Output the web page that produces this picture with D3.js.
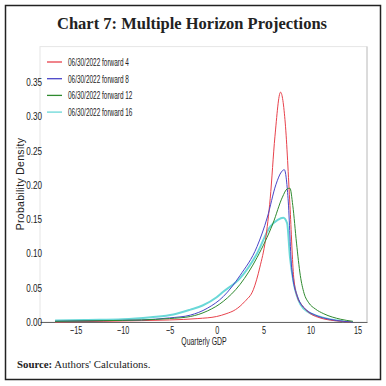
<!DOCTYPE html>
<html>
<head>
<meta charset="utf-8">
<script src="https://cdn.jsdelivr.net/npm/d3@7"></script>
<style>
  body { margin: 0; background: #fff; }
  .tick text { font-family: "Liberation Sans", Arial, sans-serif; font-size: 11px; fill: #222; }
  .legend text { font-family: "Liberation Sans", Arial, sans-serif; font-size: 11.5px; fill: #222; }
  .axis-label { font-family: "Liberation Sans", Arial, sans-serif; font-size: 10.5px; fill: #222; }
</style>
</head>
<body>
<script>
// chart values
const seriesNames = ["06/30/2022 forward 4", "06/30/2022 forward 8", "06/30/2022 forward 12", "06/30/2022 forward 16"]

const fwd4X = [-17.2, -12, -8, -5, -2, 0, 1, 2, 3, 3.9, 4.6, 5.2, 5.7, 6.2, 6.8, 7.3, 7.8, 8.2, 8.6, 9.0, 10, 11, 12.5, 14.3]
const fwd4Y = [0.000, 0.001, 0.002, 0.003, 0.005, 0.008, 0.012, 0.018, 0.030, 0.047, 0.080, 0.12, 0.18, 0.27, 0.335, 0.29, 0.17, 0.065, 0.036, 0.026, 0.012, 0.006, 0.002, 0.000]

const fwd8X = [-17.2, -12, -8, -5, -2.8, -1, 0.7, 2.5, 4.3, 5.4, 6.3, 6.9, 7.2, 7.6, 8.0, 8.6, 9.6, 10.5, 12, 13.5, 14.5]
const fwd8Y = [0.001, 0.002, 0.003, 0.006, 0.010, 0.020, 0.037, 0.068, 0.11, 0.153, 0.20, 0.219, 0.222, 0.18, 0.076, 0.037, 0.017, 0.010, 0.004, 0.001, 0.000]

const fwd12X = [-17.2, -12, -8, -5, -2.8, -1, 0.7, 2.5, 4.3, 6.0, 7.0, 7.5, 7.8, 8.1, 8.5, 8.9, 9.3, 9.8, 10.5, 11.4, 13.2, 14.5]
const fwd12Y = [0.001, 0.002, 0.003, 0.005, 0.008, 0.016, 0.030, 0.055, 0.094, 0.144, 0.182, 0.194, 0.195, 0.17, 0.115, 0.068, 0.042, 0.028, 0.019, 0.012, 0.004, 0.001]

const fwd16X = [-17.2, -14, -10, -7, -4.6, -2.8, -1.5, 0, 0.7, 2.5, 4.3, 5.7, 6.5, 7.1, 7.5, 7.8, 8.2, 8.9, 9.8, 10.7, 12, 13.5]
const fwd16Y = [0.002, 0.003, 0.004, 0.007, 0.011, 0.018, 0.024, 0.036, 0.044, 0.064, 0.100, 0.139, 0.149, 0.152, 0.144, 0.095, 0.057, 0.026, 0.014, 0.009, 0.004, 0.001]

const xTicks = [-15, -10, -5, 0, 5, 10, 15]
const yTicks = [0, 0.05, 0.10, 0.15, 0.20, 0.25, 0.30, 0.35]

const colors = ["#e8424c", "#4a45c8", "#2f8a2f", "#6ad8d8"]
const widths = [1, 1, 1, 2]

const width = 386
const height = 386

const svg = d3.select("body").append("svg")
  .attr("width", width)
  .attr("height", height)

// the source chart is squeezed sideways, so its sans text is narrow
function squeeze(sel, k) {
  sel.each(function() {
    const w = this.getComputedTextLength()
    this.setAttribute("textLength", w * k)
    this.setAttribute("lengthAdjust", "spacingAndGlyphs")
  })
}

// outer box
svg.append("rect")
  .attr("x", 5.5).attr("y", 5.5)
  .attr("width", 375).attr("height", 374)
  .attr("fill", "none")
  .attr("stroke", "#222")
  .attr("stroke-width", 1.5)

svg.append("text")
  .attr("x", 192).attr("y", 29)
  .attr("text-anchor", "middle")
  .attr("font-family", "'Liberation Serif', 'DejaVu Serif', serif")
  .attr("font-weight", "bold")
  .attr("font-size", 17.5)
  .attr("textLength", 270)
  .attr("lengthAdjust", "spacingAndGlyphs")
  .attr("fill", "#222")
  .text("Chart 7: Multiple Horizon Projections")

const src = svg.append("text")
  .attr("x", 17).attr("y", 368)
  .attr("font-family", "'Liberation Serif', serif")
  .attr("font-size", 10.8)
  .attr("fill", "#222")
src.append("tspan").attr("font-weight", "bold").text("Source:")
src.append("tspan").text(" Authors' Calculations.")

// plot area
const plotLeft = 40, plotRight = 367, plotTop = 47.6, plotBottom = 322

svg.append("rect")
  .attr("x", plotLeft).attr("y", plotTop - 1)
  .attr("width", plotRight - plotLeft).attr("height", plotBottom - plotTop + 1)
  .attr("fill", "none")
  .attr("stroke", "#e6e6e6")

svg.append("line")
  .attr("x1", plotRight).attr("x2", plotRight)
  .attr("y1", plotTop - 1).attr("y2", plotBottom)
  .attr("stroke", "#c4c4c4")

const x = d3.scaleLinear().domain([-18.8, 16.0]).range([plotLeft, plotRight])
const y = d3.scaleLinear().domain([0, 0.4]).range([plotBottom, plotTop])

const xAxis = svg.append("g")
  .attr("transform", `translate(0,${plotBottom})`)
  .call(d3.axisBottom(x).tickValues(xTicks).tickSize(0).tickSizeOuter(0).tickPadding(4))
xAxis.select(".domain").attr("stroke", "#666").attr("stroke-width", 1.2)
squeeze(xAxis.selectAll(".tick text"), 0.66)

const yAxis = svg.append("g")
  .attr("transform", `translate(${plotLeft + 2},0)`)
  .call(d3.axisLeft(y).tickValues(yTicks).tickFormat(d3.format(".2f")).tickSize(0).tickPadding(0))
yAxis.select(".domain").remove()
squeeze(yAxis.selectAll(".tick text"), 0.74)

const xLabel = svg.append("text")
  .attr("class", "axis-label")
  .attr("x", 204).attr("y", 345)
  .attr("text-anchor", "middle")
  .text("Quarterly GDP")
squeeze(xLabel, 0.66)

svg.append("text")
  .attr("class", "axis-label")
  .attr("transform", "translate(24,184) rotate(-90)")
  .attr("text-anchor", "middle")
  .attr("letter-spacing", 0.3)
  .text("Probability Density")

// curves
const seriesData = [
  d3.zip(fwd4X, fwd4Y),
  d3.zip(fwd8X, fwd8Y),
  d3.zip(fwd12X, fwd12Y),
  d3.zip(fwd16X, fwd16Y),
]

const line = d3.line()
  .x(d => x(d[0]))
  .y(d => y(d[1]))
  .curve(d3.curveMonotoneX)

// draw the wide cyan first so the thin ones stay visible
const order = [3, 0, 1, 2]
svg.append("g")
  .selectAll("path")
  .data(order)
  .enter().append("path")
    .attr("d", i => line(seriesData[i]))
    .attr("fill", "none")
    .attr("stroke", i => colors[i])
    .attr("stroke-width", i => widths[i])

// legend
const legend = svg.append("g")
  .attr("class", "legend")
  .attr("transform", "translate(47,62)")

const item = legend.selectAll("g")
  .data(seriesNames)
  .enter().append("g")
    .attr("transform", (d, i) => `translate(0,${i * 16.7})`)

item.append("line")
  .attr("x1", 0).attr("x2", 15)
  .attr("stroke", (d, i) => colors[i])
  .attr("stroke-width", 1.3)

squeeze(item.append("text")
  .attr("x", 21).attr("y", 4)
  .text(d => d), 0.56)
</script>
</body>
</html>
